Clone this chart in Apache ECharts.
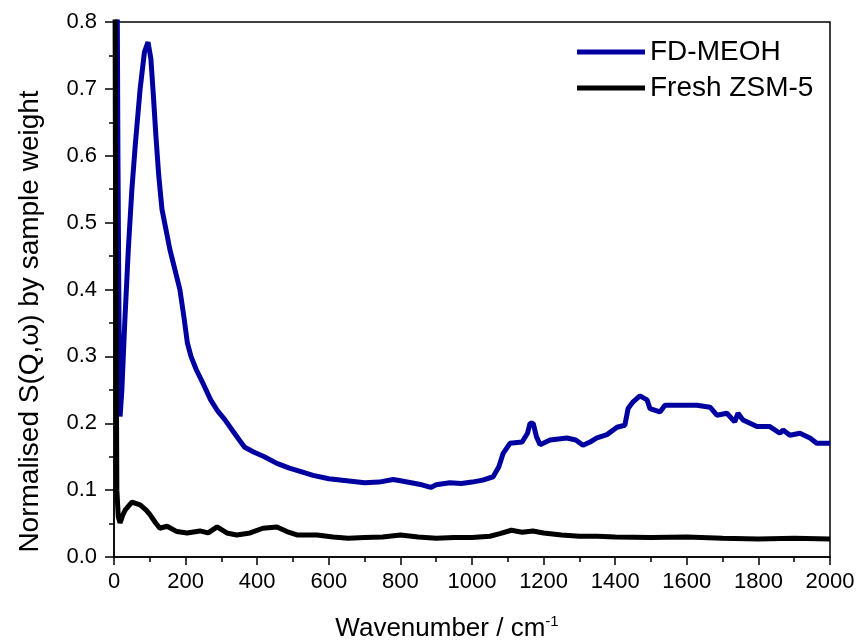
<!DOCTYPE html>
<html>
<head>
<meta charset="utf-8">
<script src="https://cdn.jsdelivr.net/npm/echarts@6/dist/echarts.min.js"></script>
<style>
  html, body { margin: 0; padding: 0; background: #fff; }
  #chart { width: 857px; height: 642px; }
</style>
</head>
<body>
<div id="chart"></div>
<script>
// values
var blueX = [0, 8, 11, 14, 17, 22, 30, 40, 50, 60, 73, 85, 95, 103, 110, 117, 125, 134, 145, 156, 170, 184, 195, 205, 215, 230, 250, 270, 290, 310, 330, 350, 365, 390, 420, 455, 490, 520, 556, 600, 650, 700, 740, 780, 800, 830, 860, 885, 900, 938, 970, 1000, 1030, 1059, 1075, 1087, 1106, 1140, 1155, 1162, 1171, 1180, 1190, 1218, 1265, 1290, 1310, 1330, 1349, 1377, 1405, 1427, 1436, 1450, 1469, 1489, 1497, 1525, 1539, 1589, 1628, 1665, 1684, 1712, 1734, 1743, 1757, 1796, 1832, 1860, 1869, 1888, 1916, 1944, 1963, 2000];
var blueY = [1.5, 0.95, 0.6, 0.35, 0.21, 0.25, 0.35, 0.46, 0.55, 0.62, 0.70, 0.755, 0.77, 0.745, 0.69, 0.63, 0.57, 0.52, 0.49, 0.46, 0.43, 0.40, 0.36, 0.32, 0.30, 0.28, 0.258, 0.235, 0.218, 0.205, 0.19, 0.175, 0.164, 0.157, 0.15, 0.14, 0.133, 0.128, 0.122, 0.117, 0.114, 0.111, 0.112, 0.116, 0.114, 0.111, 0.108, 0.104, 0.108, 0.111, 0.110, 0.112, 0.115, 0.12, 0.135, 0.155, 0.17, 0.172, 0.185, 0.20, 0.20, 0.18, 0.168, 0.175, 0.178, 0.175, 0.167, 0.172, 0.178, 0.183, 0.194, 0.197, 0.222, 0.232, 0.241, 0.235, 0.222, 0.217, 0.227, 0.227, 0.227, 0.224, 0.212, 0.215, 0.202, 0.215, 0.205, 0.195, 0.195, 0.185, 0.19, 0.182, 0.185, 0.178, 0.17, 0.17];

var blackX = [0, 4, 8, 12, 17, 24, 31, 50, 73, 90, 101, 115, 128, 148, 176, 204, 240, 263, 288, 315, 343, 380, 416, 455, 483, 511, 567, 612, 654, 700, 750, 800, 850, 900, 950, 1000, 1050, 1078, 1110, 1140, 1170, 1200, 1250, 1300, 1350, 1400, 1500, 1600, 1700, 1800, 1900, 2000];
var blackY = [1.5, 0.6, 0.1, 0.06, 0.051, 0.062, 0.07, 0.082, 0.078, 0.07, 0.063, 0.052, 0.043, 0.046, 0.038, 0.036, 0.039, 0.036, 0.045, 0.036, 0.033, 0.036, 0.043, 0.045, 0.038, 0.033, 0.033, 0.03, 0.028, 0.029, 0.03, 0.033, 0.03, 0.028, 0.029, 0.029, 0.031, 0.035, 0.04, 0.037, 0.039, 0.036, 0.033, 0.031, 0.031, 0.03, 0.029, 0.03, 0.028, 0.027, 0.028, 0.027];

var seriesNames = ['FD-MEOH', 'Fresh ZSM-5'];

function pairs(xs, ys) {
    return xs.map(function (x, i) { return [x, ys[i]]; });
}

var chart = echarts.init(document.getElementById('chart'));
var font = 'Liberation Sans, Arial, sans-serif';

var option = {
    animation: false,
    grid: {
        left: 114, right: 27, top: 22, bottom: 85,
        outerBoundsMode: 'none',
        show: true, borderColor: '#000', borderWidth: 1.5
    },
    legend: {
        orient: 'vertical',
        left: 572, top: 33,
        itemWidth: 68, itemHeight: 5, itemGap: 8,
        icon: 'rect',
        textStyle: { fontFamily: font, fontSize: 28, color: '#000' },
        data: seriesNames
    },
    xAxis: {
        type: 'value', min: 0, max: 2000, interval: 200,
        name: 'Wavenumber / cm{sup|-1}',
        nameLocation: 'middle', nameGap: 57,
        nameTextStyle: {
            fontFamily: font, fontSize: 26, color: '#000',
            padding: [0, 50, 0, 0],
            rich: { sup: { fontFamily: font, fontSize: 15, verticalAlign: 'top', padding: [0, 0, 14, 0], color: '#000' } }
        },
        axisLine: { show: true, lineStyle: { color: '#000', width: 1.5 } },
        axisTick: { show: true, length: 8, lineStyle: { width: 1.5 } },
        minorTick: { show: true, splitNumber: 2, length: 5, lineStyle: { color: '#000', width: 1.5 } },
        axisLabel: {
            fontFamily: font, fontSize: 22, color: '#000', margin: 14,
            formatter: function (v) { return String(v); }
        },
        splitLine: { show: false }
    },
    yAxis: {
        type: 'value', min: 0, max: 0.8, interval: 0.1,
        name: 'Normalised S(Q,\u03c9) by sample weight',
        nameLocation: 'middle', nameGap: 70,
        nameTextStyle: { fontFamily: font, fontSize: 28, color: '#000', padding: [0, 64, 0, 0] },
        axisLine: { show: true, lineStyle: { color: '#000', width: 1.5 } },
        axisTick: { show: true, length: 9, lineStyle: { width: 1.5 } },
        minorTick: { show: true, splitNumber: 2, length: 5, lineStyle: { color: '#000', width: 1.5 } },
        axisLabel: {
            fontFamily: font, fontSize: 22, color: '#000', margin: 17,
            formatter: function (v) { return v.toFixed(1); }
        },
        splitLine: { show: false }
    },
    series: [
        {
            name: seriesNames[0], type: 'line', showSymbol: false,
            data: pairs(blueX, blueY),
            color: '#0000a0',
            lineStyle: { color: '#0000a0', width: 5 }
        },
        {
            name: seriesNames[1], type: 'line', showSymbol: false,
            data: pairs(blackX, blackY),
            color: '#000',
            lineStyle: { color: '#000', width: 5 }
        }
    ]
};

chart.setOption(option);
window.addEventListener('resize', chart.resize);
</script>
</body>
</html>
